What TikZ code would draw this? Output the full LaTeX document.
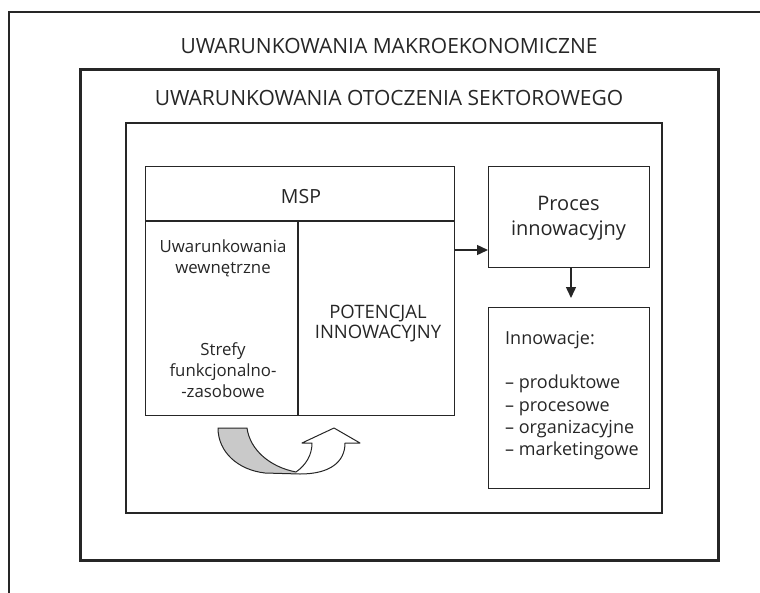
\documentclass[tikz,border=0pt]{standalone}
\usepackage{fontspec}
\setmainfont{Open Sans}
\usetikzlibrary{arrows.meta}
\definecolor{ink}{HTML}{262626}
\definecolor{band}{HTML}{C9C9C9}
\begin{document}
\begin{tikzpicture}[x=1pt,y=-1pt,
  frame/.style={draw=ink, line width=2.7pt, anchor=north west, inner sep=0},
  box/.style={draw=ink, line width=1.4pt, anchor=north west, inner sep=0},
  ttl/.style={inner sep=0, anchor=base, font=\fontsize{21}{24}\selectfont, text=ink},
  lbl/.style={inner sep=0, anchor=base, font=\fontsize{16.8}{20}\selectfont, text=ink},
  caps/.style={lbl, font=\fontsize{18.5}{22}\selectfont},
  lst/.style={lbl, anchor=base west, font=\fontsize{18}{22}\selectfont},
  big/.style={lbl, font=\fontsize{20}{24}\selectfont},
  arr/.style={draw=ink, line width=1.4pt, -{Triangle[length=11pt,width=10pt]}}]
\useasboundingbox (0,0) rectangle (760,592);

% outermost frame runs past the page edge
\begin{scope}
  \clip (0,0) rectangle (760,592);
  \draw[ink, line width=2.7pt] (9,12) rectangle (800,640);
\end{scope}
\node[ttl] (t1) at (389,53) {UWARUNKOWANIA MAKROEKONOMICZNE};

% sector frame
\node[frame, minimum width=638, minimum height=491] (sector) at (79,68) {};
\node[ttl] (t2) at (389,105) {UWARUNKOWANIA OTOCZENIA SEKTOROWEGO};

% company frame
\node[frame, line width=2.4pt, minimum width=536, minimum height=390] (firm) at (125,122) {};

% MSP box with header and two columns
\node[box, minimum width=309, minimum height=249] (msp) at (145,166) {};
\coordinate (hdr) at (0,221);
\coordinate (col) at (298,0);
\draw[ink, line width=1.4pt] (msp.west |- hdr) -- (msp.east |- hdr);
\draw[ink, line width=1.4pt] (col |- hdr) -- (col |- msp.south);
\node[caps, font=\fontsize{19.5}{22}\selectfont] (mspt) at (301,203) {MSP};
\node[lbl] (u1) at (223,252) {Uwarunkowania};
\node[lbl] (u2) at (223,273) {wewnętrzne};
\node[lbl] (s1) at (223,355) {Strefy};
\node[lbl] (s2) at (223,376) {funkcjonalno-};
\node[lbl] (s3) at (223,397) {-zasobowe};
\node[caps] (p1) at (378,318) {POTENCJAL};
\node[caps] (p2) at (378,338) {INNOWACYJNY};

% innovation process
\node[box, minimum width=161, minimum height=101] (proces) at (488,166) {};
\node[big] (pr1) at (568.5,210) {Proces};
\node[big] (pr2) at (568.5,235) {innowacyjny};

% innovations list
\node[box, minimum width=161, minimum height=181] (innov) at (488,307) {};
\node[lst] (i0) at (505,344) {Innowacje:};
\node[lst] (i1) at (505,388) {– produktowe};
\node[lst] (i2) at (505,411) {– procesowe};
\node[lst] (i3) at (505,433) {– organizacyjne};
\node[lst] (i4) at (505,455) {– marketingowe};

% connectors
\coordinate (ay) at (0,250);
\coordinate (ax) at (571,0);
\draw[arr] (msp.east |- ay) -- (proces.west |- ay);
\draw[arr, shorten >=9pt] (proces.south -| ax) -- (innov.north -| ax);

% U-turn arrow under the MSP box
\fill[band] (218,428) -- (247,428)
  .. controls (250,450) and (270,467) .. (296,472)
  -- (296,474) -- (265,473)
  .. controls (238,470) and (218,452) .. (218,428) -- cycle;
\fill[white] (296,472)
  .. controls (306,465) and (312,455) .. (312,443)
  -- (302,443) -- (334,428) -- (360,443) -- (345,443)
  .. controls (345,462) and (330,474) .. (300,474) -- cycle;
\draw[ink, line width=1pt, line join=round]
  (218,428) -- (247,428)
  .. controls (250,450) and (270,467) .. (296,472)
  .. controls (306,465) and (312,455) .. (312,443)
  -- (302,443) -- (334,428) -- (360,443) -- (345,443)
  .. controls (345,462) and (330,474) .. (300,474)
  -- (265,473)
  .. controls (238,470) and (218,452) .. (218,428) -- cycle;
\end{tikzpicture}
\end{document}
